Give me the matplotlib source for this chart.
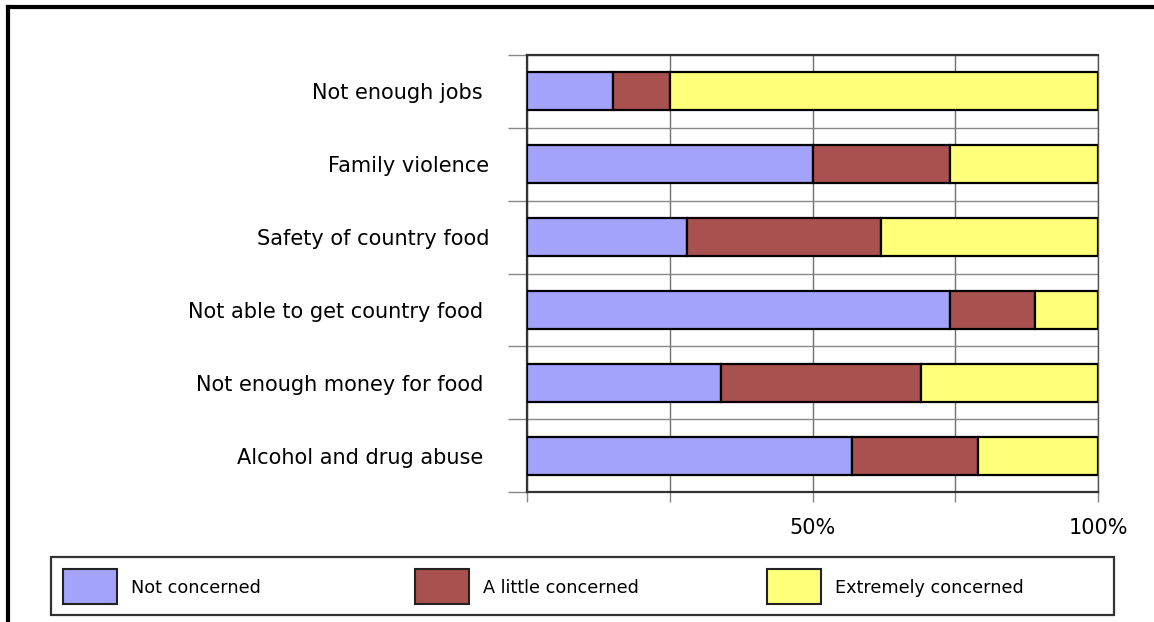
"""
Level of concern about community issues, stacked 100% horizontal bars.
"""
import numpy as np
import matplotlib
matplotlib.use("Agg")
import matplotlib.pyplot as plt
from matplotlib.lines import Line2D
from matplotlib.patches import Rectangle

# ── Data (percent of respondents) ──
ISSUES = [
    "Not enough jobs ",
    "Family violence",
    "Safety of country food",
    "Not able to get country food ",
    "Not enough money for food ",
    "Alcohol and drug abuse ",
]
NOT_CONCERNED = [15, 50, 28, 74, 34, 57]
LITTLE_CONCERNED = [10, 24, 34, 15, 35, 22]
EXTREMELY_CONCERNED = [75, 26, 38, 11, 31, 21]

SERIES = ["Not concerned", "A little concerned", "Extremely concerned"]
COLORS = ["#a3a3fb", "#a9514f", "#ffff7a"]

X_TICKS = [0, 25, 50, 75, 100]
X_LABELS = ["", "", "50%", "", "100%"]

W, H, DPI = 1154, 622, 100


def px(x, y):
    """pixel (from top-left) -> figure fraction"""
    return x / W, 1 - y / H


def main():
    fig = plt.figure(figsize=(W / DPI, H / DPI), dpi=DPI)
    fig.patch.set_facecolor("white")
    ax = fig.add_axes([527 / W, 1 - 492 / H, 571 / W, 437 / H])

    y = np.arange(len(ISSUES))
    left = np.zeros(len(ISSUES))
    for vals, col in zip([NOT_CONCERNED, LITTLE_CONCERNED, EXTREMELY_CONCERNED], COLORS):
        ax.barh(y, vals, left=left, height=0.52, color=col,
                edgecolor="black", linewidth=1.6, zorder=3)
        left += np.array(vals)

    ax.set_xlim(0, 100)
    ax.set_ylim(len(ISSUES) - 0.5, -0.5)

    # x axis: gridlines at quarters, labels only at 50 and 100
    ax.set_xticks(X_TICKS)
    ax.set_xticklabels(X_LABELS, fontsize=15, color="black")
    ax.tick_params(axis="x", direction="out", length=7, width=1,
                   color="#888888", pad=12)
    ax.grid(axis="x", color="#707070", linewidth=1, zorder=1)

    # y axis: labels on categories, ticks/grid on category boundaries
    ax.set_yticks(y)
    ax.set_yticklabels(ISSUES, fontsize=15, color="black")
    ax.tick_params(axis="y", which="major", length=0, pad=27)
    ax.set_yticks(np.arange(-0.5, len(ISSUES)), minor=True)
    ax.tick_params(axis="y", which="minor", direction="out", length=14,
                   width=1, color="#888888")
    ax.grid(axis="y", which="minor", color="#888888", linewidth=1, zorder=1)

    for side in ["top", "bottom", "left", "right"]:
        ax.spines[side].set_color("#333333")
        ax.spines[side].set_linewidth(1.6)
    ax.spines["right"].set_color("#555555")
    ax.spines["right"].set_linewidth(1.0)

    # legend strip, entries evenly spaced across the bottom
    x0, y0 = px(51, 615)
    x1, y1 = px(1114, 557)
    fig.add_artist(Rectangle((x0, y0), x1 - x0, y1 - y0, transform=fig.transFigure,
                             facecolor="white", edgecolor="#333333", linewidth=1.6))
    for i, (name, col) in enumerate(zip(SERIES, COLORS)):
        hx = 63 + i * 352
        bx, by = px(hx, 604)
        fig.add_artist(Rectangle((bx, by), 54 / W, 35 / H, transform=fig.transFigure,
                                 facecolor=col, edgecolor="#222222", linewidth=1.5))
        tx, ty = px(hx + 68, 588)
        fig.text(tx, ty, name, fontsize=12.7, ha="left", va="center", color="black")

    # outer frame: top and left edges only
    fig.add_artist(Line2D([8 / W, 1], [1 - 7 / H, 1 - 7 / H], color="black",
                          linewidth=3, transform=fig.transFigure))
    fig.add_artist(Line2D([8 / W, 8 / W], [0, 1 - 7 / H], color="black",
                          linewidth=3, transform=fig.transFigure))

    fig.savefig("out.png", dpi=DPI)
    plt.close(fig)


if __name__ == "__main__":
    main()
